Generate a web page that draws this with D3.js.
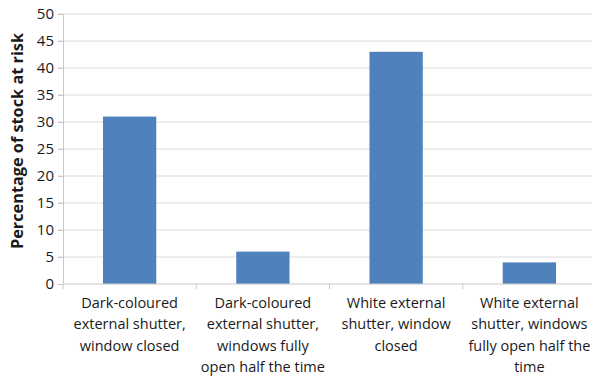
<!DOCTYPE html>
<html>
<head>
<meta charset="utf-8">
<script src="https://cdn.jsdelivr.net/npm/d3@7"></script>
<style>
  html, body { margin: 0; padding: 0; background: #fff; }
  svg { display: block; }
  text { font-family: "Open Sans", "Liberation Sans", sans-serif; fill: #1a1a1a; }
</style>
</head>
<body>
<svg id="chart" width="592" height="376"></svg>
<script>
// Share of stock at risk for each shutter / window scenario
const categories = [
  ["Dark-coloured", "external shutter,", "window closed"],
  ["Dark-coloured", "external shutter,", "windows fully", "open half the time"],
  ["White external", "shutter, window", "closed"],
  ["White external", "shutter, windows", "fully open half the", "time"]
];
const values = [31, 6, 43, 4];
const yTicks = [0, 5, 10, 15, 20, 25, 30, 35, 40, 45, 50];
const yTitle = "Percentage of stock at risk";

const svg = d3.select("#chart");
const margin = { left: 63, right: -4, top: 14, bottom: 92 };
const W = 592, H = 376;

const x = d3.scaleBand()
  .domain(d3.range(values.length))
  .range([margin.left, W - margin.right])
  .paddingInner(0.6).paddingOuter(0.3);
const xOuter = d3.scaleBand()
  .domain(d3.range(values.length))
  .range([margin.left, W - margin.right]);
const y = d3.scaleLinear().domain([0, 50]).range([H - margin.bottom, margin.top]);

// horizontal gridlines
svg.append("g")
  .selectAll("line")
  .data(yTicks.filter(d => d > 0))
  .join("line")
  .attr("x1", margin.left - 5)
  .attr("x2", W)
  .attr("y1", d => y(d))
  .attr("y2", d => y(d))
  .attr("stroke", "#dadada")
  .attr("stroke-width", 1);

// y axis
const yAxis = svg.append("g")
  .attr("transform", `translate(${margin.left},0)`)
  .call(d3.axisLeft(y).tickValues(yTicks).tickSize(5).tickPadding(4));
yAxis.select(".domain").attr("stroke", "#c8c8c8");
yAxis.selectAll(".tick line").attr("stroke", "#c8c8c8");
yAxis.selectAll(".tick text")
  .style("font-size", "15px")
  .attr("fill", "#1a1a1a");

// bars
svg.append("g")
  .selectAll("rect")
  .data(values)
  .join("rect")
  .attr("x", (d, i) => x(i))
  .attr("width", x.bandwidth())
  .attr("y", d => y(d))
  .attr("height", d => y(0) - y(d))
  .attr("fill", "#4f81bd");

// x axis baseline with category separators
const base = y(0);
svg.append("line")
  .attr("x1", margin.left).attr("x2", W)
  .attr("y1", base).attr("y2", base)
  .attr("stroke", "#c8c8c8");
svg.append("g")
  .selectAll("line")
  .data(d3.range(values.length + 1))
  .join("line")
  .attr("x1", i => margin.left + i * xOuter.step())
  .attr("x2", i => margin.left + i * xOuter.step())
  .attr("y1", base)
  .attr("y2", base + 5)
  .attr("stroke", "#c8c8c8");

// category labels
const lab = svg.append("g")
  .selectAll("text")
  .data(categories)
  .join("text")
  .attr("text-anchor", "middle")
  .style("font-size", "14.5px")
  .attr("x", (d, i) => xOuter(i) + xOuter.bandwidth() / 2)
  .attr("y", base + 24);
lab.selectAll("tspan")
  .data(d => d)
  .join("tspan")
  .attr("x", function () { return d3.select(this.parentNode).attr("x"); })
  .attr("dy", (d, i) => i === 0 ? 0 : 21.3)
  .text(d => d);

// y axis title
svg.append("text")
  .attr("transform", "translate(23,141) rotate(-90)")
  .attr("text-anchor", "middle")
  .style("font-size", "16.3px")
  .style("font-weight", "bold")
  .text(yTitle);
</script>
</body>
</html>
